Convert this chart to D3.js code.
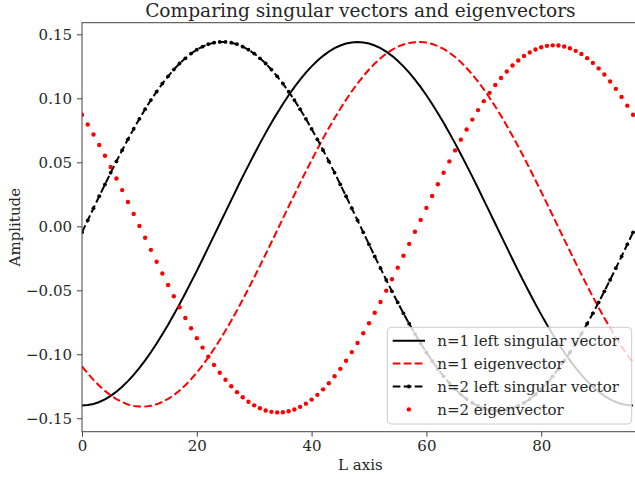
<!DOCTYPE html>
<html>
<head>
<meta charset="utf-8">
<script src="https://cdn.jsdelivr.net/npm/d3@7"></script>
<style>
  body { margin: 0; background: #fff; }
  svg { display: block; font-family: 'DejaVu Serif', serif; }
</style>
</head>
<body>
<svg id="chart"></svg>
<script>
// values, one per L index 0..96
const n1Singular = [
  -0.1400, -0.1397, -0.1388, -0.1373, -0.1352, -0.1325, -0.1292, -0.1254, -0.1210, -0.1161,
  -0.1107, -0.1048, -0.0984, -0.0916, -0.0844, -0.0769, -0.0690, -0.0608, -0.0523, -0.0436,
  -0.0348, -0.0257, -0.0165, -0.0073, 0.0020, 0.0113, 0.0205, 0.0297, 0.0388, 0.0476,
  0.0563, 0.0648, 0.0730, 0.0809, 0.0884, 0.0956, 0.1024, 0.1088, 0.1147, 0.1201,
  0.1250, 0.1294, 0.1332, 0.1365, 0.1392, 0.1413, 0.1428, 0.1437, 0.1440, 0.1437,
  0.1428, 0.1413, 0.1392, 0.1365, 0.1332, 0.1294, 0.1250, 0.1201, 0.1147, 0.1088,
  0.1024, 0.0956, 0.0884, 0.0809, 0.0730, 0.0648, 0.0563, 0.0476, 0.0388, 0.0297,
  0.0205, 0.0113, 0.0020, -0.0073, -0.0165, -0.0257, -0.0348, -0.0436, -0.0523, -0.0608,
  -0.0690, -0.0769, -0.0844, -0.0916, -0.0984, -0.1048, -0.1107, -0.1161, -0.1210, -0.1254,
  -0.1292, -0.1325, -0.1352, -0.1373, -0.1388, -0.1397, -0.1400
];

const n1Eigen = [
  -0.1095, -0.1150, -0.1200, -0.1246, -0.1286, -0.1321, -0.1350, -0.1374, -0.1392, -0.1404,
  -0.1409, -0.1409, -0.1403, -0.1391, -0.1373, -0.1349, -0.1319, -0.1283, -0.1242, -0.1195,
  -0.1143, -0.1087, -0.1025, -0.0959, -0.0889, -0.0815, -0.0738, -0.0657, -0.0573, -0.0487,
  -0.0399, -0.0309, -0.0217, -0.0125, -0.0032, 0.0062, 0.0155, 0.0247, 0.0339, 0.0429,
  0.0517, 0.0603, 0.0687, 0.0768, 0.0845, 0.0919, 0.0989, 0.1055, 0.1117, 0.1173,
  0.1225, 0.1272, 0.1313, 0.1349, 0.1379, 0.1403, 0.1421, 0.1433, 0.1439, 0.1440,
  0.1436, 0.1425, 0.1408, 0.1386, 0.1357, 0.1323, 0.1283, 0.1237, 0.1186, 0.1131,
  0.1070, 0.1005, 0.0936, 0.0863, 0.0786, 0.0706, 0.0623, 0.0538, 0.0450, 0.0360,
  0.0269, 0.0177, 0.0084, -0.0009, -0.0102, -0.0194, -0.0286, -0.0376, -0.0465, -0.0551,
  -0.0635, -0.0716, -0.0794, -0.0869, -0.0940, -0.1006, -0.1068
];

const n2Singular = [
  -0.0047, 0.0047, 0.0141, 0.0235, 0.0327, 0.0419, 0.0508, 0.0595, 0.0680, 0.0761,
  0.0840, 0.0915, 0.0986, 0.1052, 0.1115, 0.1172, 0.1225, 0.1272, 0.1313, 0.1350,
  0.1380, 0.1404, 0.1423, 0.1435, 0.1441, 0.1441, 0.1435, 0.1423, 0.1404, 0.1380,
  0.1350, 0.1313, 0.1272, 0.1225, 0.1172, 0.1115, 0.1052, 0.0986, 0.0915, 0.0840,
  0.0761, 0.0680, 0.0595, 0.0508, 0.0419, 0.0327, 0.0235, 0.0141, 0.0047, -0.0047,
  -0.0141, -0.0235, -0.0327, -0.0419, -0.0508, -0.0595, -0.0680, -0.0761, -0.0840, -0.0915,
  -0.0986, -0.1052, -0.1115, -0.1172, -0.1225, -0.1272, -0.1313, -0.1350, -0.1380, -0.1404,
  -0.1423, -0.1435, -0.1441, -0.1441, -0.1435, -0.1423, -0.1404, -0.1380, -0.1350, -0.1313,
  -0.1272, -0.1225, -0.1172, -0.1115, -0.1052, -0.0986, -0.0915, -0.0840, -0.0761, -0.0680,
  -0.0595, -0.0508, -0.0419, -0.0327, -0.0235, -0.0141, -0.0047
];

const n2Eigen = [
  0.0872, 0.0796, 0.0717, 0.0635, 0.0551, 0.0463, 0.0374, 0.0283, 0.0190, 0.0097,
  0.0003, -0.0090, -0.0184, -0.0277, -0.0369, -0.0459, -0.0547, -0.0633, -0.0717, -0.0797,
  -0.0874, -0.0948, -0.1018, -0.1083, -0.1144, -0.1199, -0.1250, -0.1296, -0.1336, -0.1371,
  -0.1399, -0.1422, -0.1439, -0.1450, -0.1454, -0.1453, -0.1445, -0.1431, -0.1411, -0.1386,
  -0.1354, -0.1317, -0.1274, -0.1226, -0.1172, -0.1114, -0.1051, -0.0983, -0.0912, -0.0836,
  -0.0757, -0.0675, -0.0591, -0.0503, -0.0414, -0.0323, -0.0230, -0.0137, -0.0043, 0.0050,
  0.0144, 0.0237, 0.0329, 0.0419, 0.0507, 0.0593, 0.0677, 0.0757, 0.0834, 0.0908,
  0.0978, 0.1043, 0.1104, 0.1159, 0.1210, 0.1256, 0.1296, 0.1331, 0.1359, 0.1382,
  0.1399, 0.1410, 0.1414, 0.1413, 0.1405, 0.1391, 0.1371, 0.1346, 0.1314, 0.1277,
  0.1234, 0.1186, 0.1132, 0.1074, 0.1011, 0.0943, 0.0872
];

const xTicks = [0, 20, 40, 60, 80];
const yTicks = [-0.15, -0.10, -0.05, 0.00, 0.05, 0.10, 0.15];
const legendLabels = [
  'n=1 left singular vector',
  'n=1 eigenvector',
  'n=2 left singular vector',
  'n=2 eigenvector'
];

const width = 635;
const height = 479;
const plot = { left: 82, top: 22.7, right: 638.8, bottom: 431.7 };
const textColor = '#262626';

const svg = d3.select('#chart')
  .attr('width', width)
  .attr('height', height);

const xScale = d3.scaleLinear()
  .domain([0, 97])
  .range([plot.left, plot.right]);

const yScale = d3.scaleLinear()
  .domain([-0.1605, 0.1591])
  .range([plot.bottom, plot.top]);

svg.append('clipPath')
  .attr('id', 'plot-clip')
  .append('rect')
  .attr('x', plot.left)
  .attr('y', plot.top)
  .attr('width', plot.right - plot.left)
  .attr('height', plot.bottom - plot.top);

const g = svg.append('g').attr('clip-path', 'url(#plot-clip)');

const toPoints = values => values.map((v, i) => ({ x: i, y: v }));

const line = d3.line()
  .x(d => xScale(d.x))
  .y(d => yScale(d.y));

// n=1 left singular vector, solid black
g.append('path')
  .datum(toPoints(n1Singular))
  .attr('d', line)
  .attr('fill', 'none')
  .attr('stroke', '#000')
  .attr('stroke-width', 2);

// n=1 eigenvector, dashed red
g.append('path')
  .datum(toPoints(n1Eigen))
  .attr('d', line)
  .attr('fill', 'none')
  .attr('stroke', '#ff0000')
  .attr('stroke-width', 2)
  .attr('stroke-dasharray', '7.7,3.3');

// n=2 left singular vector, dashed black with point markers
g.append('path')
  .datum(toPoints(n2Singular))
  .attr('d', line)
  .attr('fill', 'none')
  .attr('stroke', '#000')
  .attr('stroke-width', 2)
  .attr('stroke-dasharray', '7.7,3.3');

g.selectAll('.n2s-dot')
  .data(toPoints(n2Singular))
  .enter()
  .append('circle')
  .attr('class', 'n2s-dot')
  .attr('cx', d => xScale(d.x))
  .attr('cy', d => yScale(d.y))
  .attr('r', 1.9)
  .attr('fill', '#000');

// n=2 eigenvector, red points only
g.selectAll('.n2e-dot')
  .data(toPoints(n2Eigen))
  .enter()
  .append('circle')
  .attr('class', 'n2e-dot')
  .attr('cx', d => xScale(d.x))
  .attr('cy', d => yScale(d.y))
  .attr('r', 2.2)
  .attr('fill', '#ff0000');

// axes
const fmt = d => (d < 0 ? '\u2212' : '') + Math.abs(d).toFixed(2);

const xAxis = svg.append('g')
  .attr('transform', `translate(0, ${plot.bottom})`)
  .call(d3.axisBottom(xScale).tickValues(xTicks).tickSize(5).tickPadding(4).tickSizeOuter(0));

const yAxis = svg.append('g')
  .attr('transform', `translate(${plot.left}, 0)`)
  .call(d3.axisLeft(yScale).tickValues(yTicks).tickFormat(fmt).tickSize(5).tickPadding(5).tickSizeOuter(0));

[xAxis, yAxis].forEach(ax => {
  ax.select('.domain').remove();
  ax.selectAll('.tick line').attr('stroke', '#444').attr('stroke-width', 1);
  ax.selectAll('.tick text')
    .attr('fill', textColor)
    .style('font-family', "'DejaVu Serif', serif")
    .style('font-size', '15px');
});

svg.append('rect')
  .attr('x', plot.left)
  .attr('y', plot.top)
  .attr('width', plot.right - plot.left)
  .attr('height', plot.bottom - plot.top)
  .attr('fill', 'none')
  .attr('stroke', '#444')
  .attr('stroke-width', 1);

// labels
const midX = (plot.left + plot.right) / 2;

svg.append('text')
  .attr('x', midX)
  .attr('y', 16.9)
  .attr('text-anchor', 'middle')
  .attr('fill', textColor)
  .style('font-size', '18.6px')
  .text('Comparing singular vectors and eigenvectors');

svg.append('text')
  .attr('x', midX)
  .attr('y', 470)
  .attr('text-anchor', 'middle')
  .attr('fill', textColor)
  .style('font-size', '15px')
  .text('L axis');

svg.append('text')
  .attr('transform', `translate(19.5, ${(plot.top + plot.bottom) / 2}) rotate(-90)`)
  .attr('text-anchor', 'middle')
  .attr('fill', textColor)
  .style('font-size', '15px')
  .text('Amplitude');

// legend
const legend = svg.append('g');

legend.append('rect')
  .attr('x', 387.3)
  .attr('y', 327.3)
  .attr('width', 244.4)
  .attr('height', 96.7)
  .attr('rx', 4)
  .attr('fill', '#fff')
  .attr('fill-opacity', 0.8)
  .attr('stroke', '#cccccc')
  .attr('stroke-width', 1);

const rows = legend.selectAll('.row')
  .data(legendLabels)
  .enter()
  .append('g')
  .attr('class', 'row')
  .attr('transform', (d, i) => `translate(0, ${340.7 + i * 22.9})`);

const handleX0 = 392.7;
const handleX1 = 425;
const handleMid = (handleX0 + handleX1) / 2;

rows.each(function (d, i) {
  const row = d3.select(this);
  if (i < 3) {
    row.append('line')
      .attr('x1', handleX0)
      .attr('x2', handleX1)
      .attr('y1', 0)
      .attr('y2', 0)
      .attr('stroke', i === 1 ? '#ff0000' : '#000')
      .attr('stroke-width', 2)
      .attr('stroke-dasharray', i === 0 ? null : '7.7,3.3');
  }
  if (i === 2) {
    row.append('circle').attr('cx', handleMid).attr('cy', 0).attr('r', 2).attr('fill', '#000');
  }
  if (i === 3) {
    row.append('circle').attr('cx', handleMid).attr('cy', 0).attr('r', 2.2).attr('fill', '#ff0000');
  }
  row.append('text')
    .attr('x', 437.3)
    .attr('y', 0)
    .attr('dy', '0.35em')
    .attr('fill', textColor)
    .style('font-size', '15px')
    .text(d);
});
</script>
</body>
</html>
